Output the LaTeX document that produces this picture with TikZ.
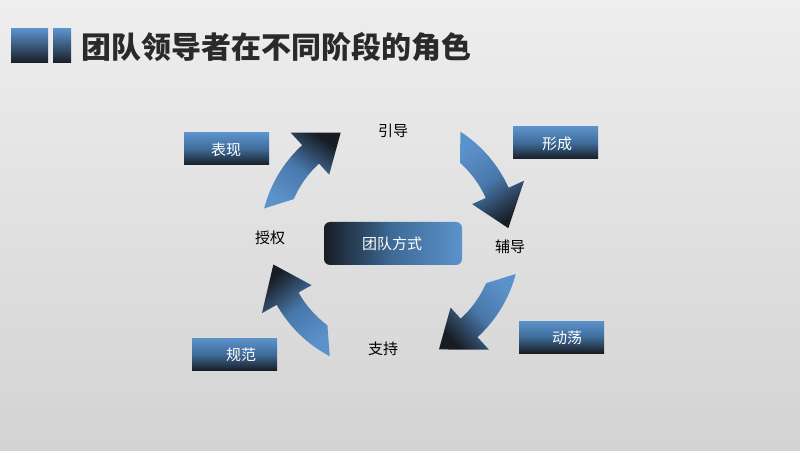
\documentclass[tikz,border=0pt]{standalone}
\usepackage{fontspec}
\newfontfamily\cjk{Noto Sans CJK SC}
\usetikzlibrary{calc}
\definecolor{bgtop}{HTML}{EEEEEE}
\definecolor{bgbot}{HTML}{D3D3D3}
\definecolor{blight}{HTML}{5C92CB}
\definecolor{bmid}{HTML}{3E6B98}
\definecolor{amid}{HTML}{4878AB}
\definecolor{bdark}{HTML}{181D24}
\definecolor{titlec}{HTML}{2A2A2A}
\tikzset{
  lbox/.style={top color=blight, bottom color=bdark, middle color=bmid, minimum width=85pt, minimum height=32pt, inner sep=0pt, text=white, font=\cjk\fontsize{15}{18}\selectfont},
  btext/.style={text=white, font=\cjk\fontsize{15}{18}\selectfont, inner sep=0pt},
  lab/.style={text=black, font=\cjk\fontsize{15}{18}\selectfont, inner sep=0pt},
}
\begin{document}
\begin{tikzpicture}[x=1pt,y=1pt]
\useasboundingbox (0,0) rectangle (800,450);
\shade[top color=bgtop, bottom color=bgbot] (0,0) rectangle (800,450);
% title squares
\shade[top color=blight, bottom color=bdark] (11,387) rectangle (48,421);
\shade[top color=blight, bottom color=bdark] (53,387) rectangle (71,421);
\node[anchor=west, inner sep=0pt, text=titlec, font=\cjk\bfseries\fontsize{30}{34}\selectfont] (title) at (81,403) {团队领导者在不同阶段的角色};
% arrows
\begin{scope}[shift={(390,209)}]
\foreach \t/\sa in {114.5/-34, 6.2/-147, -65.7/133, -168.6/38.7}{
  \shade[top color=bdark, bottom color=blight, middle color=amid, shading angle=\sa]
    (\t+51:130) arc[start angle=\t+51, end angle=\t+18, radius=130]
    -- (\t+18:147) -- (\t:119) -- (\t+18:90) -- (\t+18:105)
    arc[start angle=\t+18, end angle=\t+42, radius=105] -- cycle;
}
\end{scope}
% center box
\node[left color=bdark, right color=blight, middle color=bmid, rounded corners=6pt, minimum width=138pt, minimum height=43pt, inner sep=0pt] (center) at (393,206.5) {};
\node[btext] (ctext) at (392,206) {团队方式};
% stage labels
\node[lab] (yd) at (393,319) {引导};
\node[lab] (fd) at (510,203) {辅导};
\node[lab] (zc) at (383,101) {支持};
\node[lab] (sq) at (270,212) {授权};
% boxes
\node[lbox] (bx) at (226.5,301) {};
\node[btext] (bxt) at (226,300) {表现};
\node[lbox] (xc) at (555.5,307) {};
\node[btext] (xct) at (557,306) {形成};
\node[lbox] (dd) at (561.5,113) {};
\node[btext] (ddt) at (567,112) {动荡};
\node[lbox] (gf) at (234.5,95.5) {};
\node[btext] (gft) at (241,95) {规范};
\end{tikzpicture}
\end{document}
